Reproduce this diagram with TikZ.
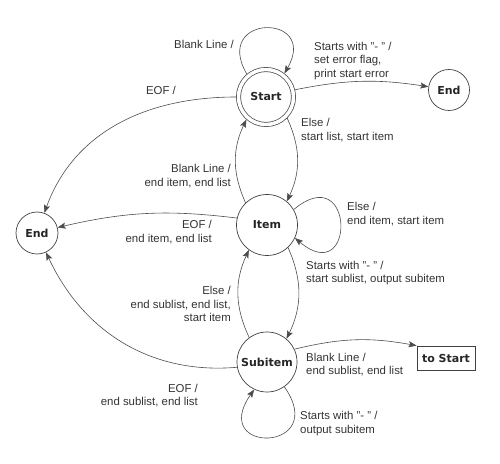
\documentclass[tikz,border=0pt]{standalone}
\usepackage{fontspec}
\setmainfont{Liberation Sans}
\newfontfamily\statefont{DejaVu Sans}
\usetikzlibrary{arrows.meta}

\begin{document}
\begin{tikzpicture}[x=1pt,y=1pt]
	\tikzset{
	  state/.style      = {draw=black!75, circle, line width=0.7pt, inner sep=0pt,
	                       font=\statefont\bfseries\fontsize{11}{13}\selectfont, text=black!85},
	  start state/.style = {state, double, double distance=3.5pt, minimum size=55pt,
	                       outer sep=2.4pt},
	  end state/.style  = {state, minimum size=41pt},
	  mid state/.style  = {state, minimum size=61pt},
	  jump/.style       = {draw=black!75, rectangle, line width=0.7pt, minimum width=58pt,
	                       minimum height=24pt, inner sep=0pt,
	                       font=\statefont\bfseries\fontsize{11}{13}\selectfont, text=black!85},
	  trans/.style      = {draw=black!70, line width=0.6pt,
	                       -{Stealth[length=8pt,width=6pt,inset=1.5pt]}},
	  lbl/.style        = {font=\fontsize{11.4}{13.5}\selectfont, text=black!80,
	                       inner sep=0pt, align=left}
	}
	\useasboundingbox (0,0) rectangle (500,463);

	% the states
	\node[start state] (start) at (266,366) {Start};
	\node[end state] (endR) at (449,373) {End};
	\node[end state, minimum size=42pt] (endL) at (37,230) {End};
	\node[mid state] (item) at (267,238) {Item};
	\node[state, minimum size=60pt] (sub) at (267,101) {Subitem};
	\node[jump] (tostart) at (446,105) {to Start};

	% leaving Start
	\draw[trans] (start.130) .. controls +(120:70) and +(60:70) .. (start.52);
	\draw[trans] (start.14) to[bend left=10] (endR.171);
	\draw[trans] (start.west) to[out=180,in=70] (endL.70);
	\draw[trans] (start.-45) to[bend left=25] (item.50);

	% leaving Item
	\draw[trans] (item.134) to[bend left=25] (start.229);
	\draw[trans] (item.167) to[bend right=10] (endL.15);
	\draw[trans] (item.30) .. controls +(40:80) and +(-40:80) .. (item.-25);
	\draw[trans] (item.-47) to[bend left=25] (sub.50);

	% leaving Subitem
	\draw[trans] (sub.126) to[bend left=25] (item.234);
	\draw[trans] (sub.190) to[out=185,in=-65] (endL.-65);
	\draw[trans] (sub.25) to[bend left=12] (tostart.north west);
	\draw[trans] (sub.-55) .. controls +(-55:80) and +(-125:80) .. (sub.-115);

	% transition texts
	\node[lbl, anchor=east, align=right] (tBlank) at (234,419) {Blank Line /};
	\node[lbl, anchor=west] (tDash) at (314,402) {Starts with "- " /\\set error flag,\\print start error};
	\node[lbl] (tEof) at (161,373) {EOF /};
	\node[lbl, anchor=west] (tElse) at (301,333) {Else /\\start list, start item};
	\node[lbl, anchor=east, align=right] (tItemBlank) at (231,287) {Blank Line /\\end item, end list};
	\node[lbl, anchor=east, align=right] (tItemEof) at (212,231) {EOF /\\end item, end list};
	\node[lbl, anchor=west] (tItemElse) at (347,249) {Else /\\end item, start item};
	\node[lbl, anchor=west] (tItemDash) at (306,190) {Starts with "- " /\\start sublist, output subitem};
	\node[lbl, anchor=east, align=right] (tSubElse) at (231,159) {Else /\\end sublist, end list,\\start item};
	\node[lbl, anchor=east, align=right] (tSubEof) at (198,67.5) {EOF /\\end sublist, end list};
	\node[lbl, anchor=west] (tSubBlank) at (306,98.5) {Blank Line /\\end sublist, end list};
	\node[lbl, anchor=west] (tSubDash) at (300,39.5) {Starts with "- " /\\output subitem};
\end{tikzpicture}
\end{document}
